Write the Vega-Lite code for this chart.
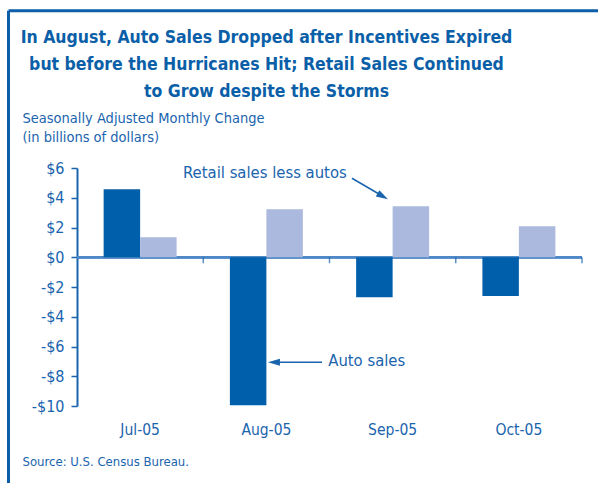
{
  "$schema": "https://vega.github.io/schema/vega-lite/v6.json",
  "width": 505,
  "height": 238,
  "autosize": {"type": "none"},
  "padding": {"left": 77, "top": 168, "right": 16, "bottom": 77},
  "background": "white",
  "config": {
    "view": {"stroke": null},
    "font": "DejaVu Sans Condensed",
    "axis": {"labelFont": "DejaVu Sans Condensed", "titleFont": "DejaVu Sans Condensed"},
    "axisY": {"labelOverlap": false, "tickCount": 9}
  },
  "title": {
    "text": ["In August, Auto Sales Dropped after Incentives Expired", "but before the Hurricanes Hit; Retail Sales Continued", "to Grow despite the Storms"],
    "anchor": "middle",
    "frame": "group",
    "dx": -63,
    "offset": -91,
    "font": "DejaVu Sans Condensed",
    "fontSize": 17.5,
    "fontWeight": "bold",
    "lineHeight": 27,
    "color": "#0b5fa8"
  },
  "datasets": {
    "bars": [
      {"month": "Jul-05", "series": "Auto sales", "value": 4.57},
      {"month": "Jul-05", "series": "Retail sales less autos", "value": 1.34},
      {"month": "Aug-05", "series": "Auto sales", "value": -9.95},
      {"month": "Aug-05", "series": "Retail sales less autos", "value": 3.23},
      {"month": "Sep-05", "series": "Auto sales", "value": -2.69},
      {"month": "Sep-05", "series": "Retail sales less autos", "value": 3.43},
      {"month": "Oct-05", "series": "Auto sales", "value": -2.6},
      {"month": "Oct-05", "series": "Retail sales less autos", "value": 2.08}
    ],
    "labels": [
      {"label": "Retail sales less autos", "x": 0.84, "y": 5.65},
      {"label": "Auto sales", "x": 1.99, "y": -7.0}
    ],
    "arrows": [
      {"x": 2.178, "y": 5.31, "x2": 2.422, "y2": 4.1},
      {"x": 1.941, "y": -7.06, "x2": 1.56, "y2": -7.06}
    ],
    "heads": [
      {"x": 2.422, "y": 4.1, "angle": 30},
      {"x": 1.56, "y": -7.06, "angle": 180}
    ],
    "ticks": [{"x": 1}, {"x": 2}, {"x": 3}, {"x": 4}],
    "border": [
      {"x": -0.5426, "y": -15.19, "x2": -0.5426, "y2": 16.57},
      {"x": -0.5426, "y": 16.57, "x2": 4.127, "y2": 16.57}
    ]
  },
  "layer": [
    {
      "layer": [
        {
          "data": {"name": "bars"},
          "mark": {"type": "rule", "color": "#4f88c6", "strokeWidth": 2},
          "encoding": {"y": {"datum": 0, "type": "quantitative"}}
        },
        {
          "data": {"name": "bars"},
          "mark": {"type": "bar"},
          "encoding": {
            "x": {
              "field": "month",
              "type": "nominal",
              "sort": ["Jul-05", "Aug-05", "Sep-05", "Oct-05"],
              "scale": {"paddingInner": 0, "paddingOuter": 0},
              "axis": {
                "title": "Source: U.S. Census Bureau.",
                "titleFontSize": 13,
                "titleFontWeight": "normal",
                "titleColor": "#1a64ae",
                "titleAnchor": "start",
                "titleAlign": "left",
                "titleX": -55,
                "titleY": 49,
                "labelAngle": 0,
                "labelFontSize": 15.5,
                "labelColor": "#1a64ae",
                "labelPadding": 16,
                "ticks": false,
                "domain": false
              }
            },
            "xOffset": {
              "field": "series",
              "type": "nominal",
              "scale": {"paddingInner": 0, "paddingOuter": 0.73}
            },
            "y": {
              "field": "value",
              "type": "quantitative",
              "scale": {"domain": [-10, 6], "nice": false},
              "axis": {
                "values": [-10, -8, -6, -4, -2, 0, 2, 4, 6],
                "tickCount": 9,
                "labelExpr": "datum.value < 0 ? '-$' + abs(datum.value) : '$' + datum.value",
                "labelOverlap": false,
                "grid": false,
                "labelFontSize": 16,
                "labelColor": "#1a64ae",
                "labelPadding": 7,
                "tickSize": 6,
                "tickColor": "#1a64ae",
                "tickWidth": 1.5,
                "domainColor": "#1a64ae",
                "domainWidth": 2,
                "title": ["Seasonally Adjusted Monthly Change", "(in billions of dollars)"],
                "titleAngle": 0,
                "titleAlign": "left",
                "titleBaseline": "top",
                "titleAnchor": "end",
                "titleX": -55,
                "titleY": -57,
                "titleFontSize": 14.5,
                "titleFontWeight": "normal",
                "titleColor": "#1a64ae",
                "titleLineHeight": 19
              }
            },
            "color": {
              "field": "series",
              "type": "nominal",
              "scale": {"domain": ["Auto sales", "Retail sales less autos"], "range": ["#005fab", "#aab9dd"]},
              "legend": null
            }
          }
        }
      ]
    },
    {
      "layer": [
        {
          "data": {"name": "ticks"},
          "mark": {"type": "tick", "orient": "vertical", "size": 6, "thickness": 1.5, "yOffset": 3, "color": "#1a64ae"},
          "encoding": {
            "x": {"field": "x", "type": "quantitative", "scale": {"domain": [0, 4], "nice": false, "zero": false}, "axis": null},
            "y": {"datum": 0, "type": "quantitative"}
          }
        },
        {
          "data": {"name": "labels"},
          "mark": {"type": "text", "align": "left", "baseline": "middle", "fontSize": 16.5, "color": "#1a64ae", "font": "DejaVu Sans Condensed"},
          "encoding": {
            "x": {"field": "x", "type": "quantitative"},
            "y": {"field": "y", "type": "quantitative"},
            "text": {"field": "label"}
          }
        },
        {
          "data": {"name": "arrows"},
          "mark": {"type": "rule", "color": "#1a64ae", "strokeWidth": 1.5},
          "encoding": {
            "x": {"field": "x", "type": "quantitative"},
            "y": {"field": "y", "type": "quantitative"},
            "x2": {"field": "x2"},
            "y2": {"field": "y2"}
          }
        },
        {
          "data": {"name": "heads"},
          "mark": {"type": "point", "shape": "M-1,-0.6L1,0L-1,0.6Z", "filled": true, "size": 144, "color": "#1a64ae", "opacity": 1},
          "encoding": {
            "x": {"field": "x", "type": "quantitative"},
            "y": {"field": "y", "type": "quantitative"},
            "angle": {"field": "angle", "type": "quantitative", "scale": null}
          }
        },
        {
          "data": {"name": "border"},
          "mark": {"type": "rule", "color": "#0b5fa8", "strokeWidth": 3, "clip": false},
          "encoding": {
            "x": {"field": "x", "type": "quantitative"},
            "y": {"field": "y", "type": "quantitative"},
            "x2": {"field": "x2"},
            "y2": {"field": "y2"}
          }
        }
      ]
    }
  ],
  "resolve": {"scale": {"x": "independent"}, "axis": {"x": "independent"}}
}
